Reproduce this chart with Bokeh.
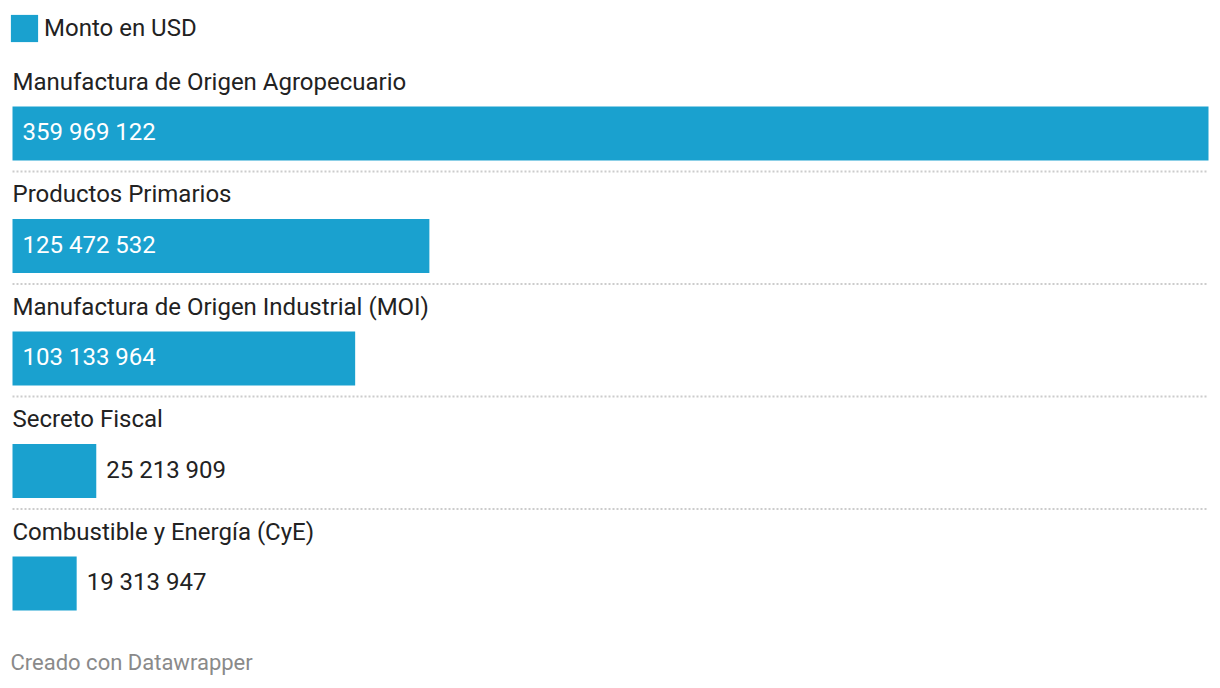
from bokeh.plotting import figure
from bokeh.models import Range1d, Label, Legend, LegendItem, ColumnDataSource
from bokeh.core.properties import value
from bokeh.embed import file_html
from bokeh.resources import INLINE

categories = [
    "Manufactura de Origen Agropecuario",
    "Productos Primarios",
    "Manufactura de Origen Industrial (MOI)",
    "Secreto Fiscal",
    "Combustible y Energía (CyE)",
]
values = [359969122, 125472532, 103133964, 25213909, 19313947]
series_name = "Monto en USD"
footer_text = "Creado con Datawrapper"

W, H = 1220, 688
LEFT, RIGHT = 12, 1208
BAR_COLOR = "#1aa1cf"
TEXT_COLOR = "#222222"
FONT = "Roboto"
FS = "24px"

vmax = max(values)
px_per_unit = (RIGHT - LEFT) / vmax
x0 = -LEFT / px_per_unit
x1 = (W - LEFT) / px_per_unit

def fmt(v):
    return f"{v:,}".replace(",", " ")

# row layout (screen-like y, top = 0)
row_step = 112.5
first_center = 133
centers = [first_center + i * row_step for i in range(len(categories))]

p = figure(width=W, height=H, output_backend="svg", toolbar_location=None,
           x_range=Range1d(x0, x1), y_range=Range1d(H, 0),
           min_border=0, min_border_left=0, min_border_right=0,
           min_border_top=0, min_border_bottom=0)
p.axis.visible = False
p.grid.visible = False
p.outline_line_color = None
p.background_fill_color = "white"
p.border_fill_color = "white"

src = ColumnDataSource(dict(y=centers, v=values, zero=[0] * len(values)))
bars = p.hbar(y="y", left="zero", right="v", height=54, source=src,
              fill_color=BAR_COLOR, line_color=None)

# category labels
p.text(x=[0] * len(categories), y=[c - 52 for c in centers], text=categories,
       text_font=value(FONT), text_font_size=FS, text_color=TEXT_COLOR,
       text_baseline="middle", text_align="left")

# value labels
in_x, in_y, in_t, out_x, out_y, out_t = [], [], [], [], [], []
for v, c in zip(values, centers):
    if v * px_per_unit > 200:
        in_x.append(10 / px_per_unit); in_y.append(c - 1.5); in_t.append(fmt(v))
    else:
        out_x.append(v + 10 / px_per_unit); out_y.append(c - 1.5); out_t.append(fmt(v))
p.text(x=in_x, y=in_y, text=in_t, text_font=value(FONT), text_font_size=FS,
       text_color="white", text_baseline="middle", text_align="left")
p.text(x=out_x, y=out_y, text=out_t, text_font=value(FONT), text_font_size=FS,
       text_color=TEXT_COLOR, text_baseline="middle", text_align="left")

# dotted separators
for c in centers[:-1]:
    p.segment(x0=[0], y0=[c + 38], x1=[vmax], y1=[c + 38],
              line_color="#cccccc", line_width=2, line_dash="2 2")

# legend
legend = Legend(items=[LegendItem(label=series_name, renderers=[bars])],
                location=(7, H - 45), orientation="horizontal",
                glyph_width=34, glyph_height=34, label_standoff=3,
                label_text_font=FONT, label_text_font_size=FS,
                label_text_color=TEXT_COLOR, label_height=34,
                padding=0, margin=0, spacing=0,
                border_line_color=None, background_fill_alpha=0)
p.add_layout(legend, "center")

# footer
p.add_layout(Label(x=10, y=H - 662, x_units="screen", y_units="screen",
                   text=footer_text, text_font=FONT, text_font_size="22px",
                   text_color="#8a8a8a", text_baseline="middle"))

open("out.html", "w").write(file_html(p, INLINE))
